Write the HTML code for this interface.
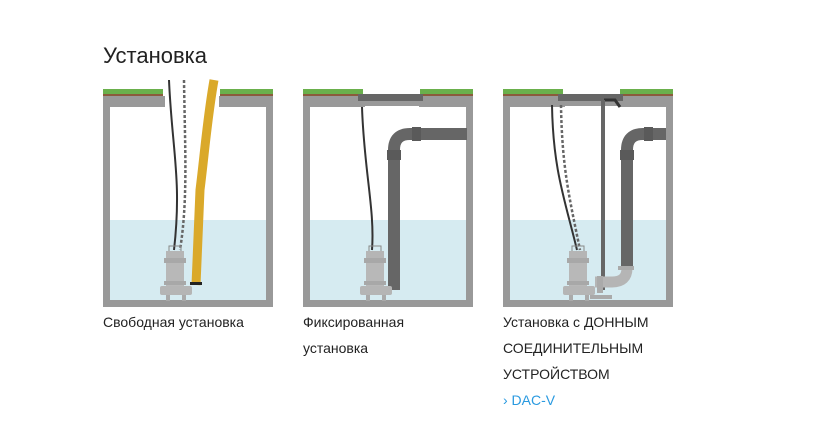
<!DOCTYPE html>
<html><head><meta charset="utf-8"><style>
body{margin:0;width:835px;height:435px;background:#fff;font-family:"Liberation Sans",sans-serif;position:relative;overflow:hidden}
.t{position:absolute;color:#222;font-size:14px;line-height:26px}
h1{position:absolute;left:103px;top:43px;margin:0;font-weight:normal;font-size:22px;color:#222}
</style></head><body>
<h1>Установка</h1>
<svg width="835" height="435" style="position:absolute;left:0;top:0">
<defs>
<g id="pump">
 <rect x="-9" y="-36" width="18" height="7" fill="#b5b5b5"/>
 <rect x="-11" y="-29" width="22" height="5" fill="#a8a8a8"/>
 <rect x="-9" y="-24" width="18" height="23" fill="#b8b8b8"/>
 <rect x="-11" y="-6" width="22" height="4" fill="#a8a8a8"/>
 <rect x="-15" y="-1" width="32" height="9" rx="2" fill="#b5b5b5"/>
 <rect x="-9" y="8" width="4" height="6" fill="#aaa"/>
 <rect x="7" y="8" width="4" height="6" fill="#aaa"/>
 <path d="M-6 -36 V-41 H6 V-36" fill="none" stroke="#888" stroke-width="1"/>
</g>
<g id="pit">
 <rect x="0" y="0" width="170" height="211" fill="#999"/>
 <rect x="7" y="10" width="156" height="194" fill="#fff"/>
 <rect x="7" y="124" width="156" height="80" fill="#d6ebf1"/>
 <rect x="0" y="-7" width="60" height="5" fill="#6ab04c"/>
 <rect x="117" y="-7" width="53" height="5" fill="#6ab04c"/>
 <rect x="0" y="-2" width="60" height="2" fill="#8b5a3c"/>
 <rect x="117" y="-2" width="53" height="2" fill="#8b5a3c"/>
</g>
</defs>
<g transform="translate(103,96)"><use href="#pit"/><rect x="60" y="-8" width="57" height="18" fill="#fff"/></g>
<rect x="103" y="96" width="62" height="11" fill="#999"/><rect x="219" y="96" width="53" height="11" fill="#999"/>
<path d="M169 80 C172 150,182 180,174 250" fill="none" stroke="#333" stroke-width="2"/>
<path d="M184 80 C185 150,188 200,180 250" fill="none" stroke="#666" stroke-width="2.5" stroke-dasharray="3 2"/>
<path d="M214 80 C207 120,205 150,200 190 L196 285" fill="none" stroke="#daa92a" stroke-width="9"/>
<rect x="190" y="282" width="12" height="3" fill="#222"/>
<use href="#pump" transform="translate(175,287)"/>
<g transform="translate(303,96)"><use href="#pit"/></g>
<rect x="303" y="96" width="62" height="11" fill="#999"/><rect x="419" y="96" width="54" height="11" fill="#999"/>
<rect x="358" y="94" width="65" height="7" fill="#666"/>
<path d="M362 107 C364 170,375 210,372 250" fill="none" stroke="#333" stroke-width="2"/>
<path d="M394 290 V150 Q394 134 410 134 H467" fill="none" stroke="#666" stroke-width="12"/>
<rect x="387" y="150" width="14" height="10" fill="#5a5a5a"/>
<rect x="412" y="127" width="9" height="14" fill="#5a5a5a"/>
<use href="#pump" transform="translate(375,287)"/>
<g transform="translate(503,96)"><use href="#pit"/></g>
<rect x="503" y="96" width="62" height="11" fill="#999"/><rect x="619" y="96" width="54" height="11" fill="#999"/>
<rect x="558" y="94" width="65" height="7" fill="#666"/>
<path d="M604 100 H615 L620 107" fill="none" stroke="#333" stroke-width="3"/>
<rect x="601" y="100" width="4" height="190" fill="#666"/>
<path d="M552 105 C553 170,565 200,577 250" fill="none" stroke="#333" stroke-width="2"/>
<path d="M561 105 C562 170,570 200,580 250" fill="none" stroke="#666" stroke-width="2.5" stroke-dasharray="3 2"/>
<path d="M627 268 V150 Q627 134 643 134 H666" fill="none" stroke="#666" stroke-width="12"/>
<rect x="620" y="150" width="14" height="10" fill="#5a5a5a"/>
<rect x="644" y="127" width="9" height="14" fill="#5a5a5a"/>
<path d="M627 268 Q627 282 612 282 H595" fill="none" stroke="#b5b5b5" stroke-width="11"/>
<rect x="618" y="266" width="16" height="4" fill="#aaa"/>
<rect x="597" y="276" width="6" height="17" fill="#aaa"/>
<rect x="590" y="295" width="22" height="4" fill="#aaa"/>
<use href="#pump" transform="translate(578,287)"/>
</svg>
<div class="t" style="left:103px;top:309px">Свободная установка</div>
<div class="t" style="left:303px;top:309px">Фиксированная<br>установка</div>
<div class="t" style="left:503px;top:309px">Установка с ДОННЫМ<br>СОЕДИНИТЕЛЬНЫМ<br>УСТРОЙСТВОМ<br><span style="color:#2a9ae0">› DAC-V</span></div>
</body></html>
